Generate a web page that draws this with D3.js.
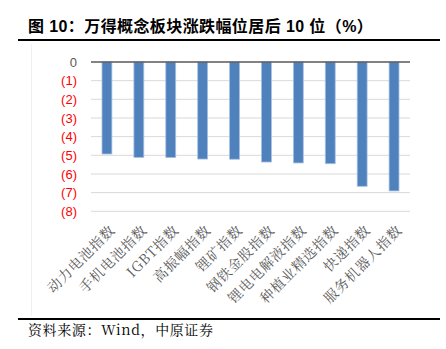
<!DOCTYPE html>
<html><head><meta charset="utf-8">
<script src="https://cdn.jsdelivr.net/npm/d3@7"></script>
<style>body{margin:0;background:#fff}svg{display:block}</style>
</head><body>
<script>
const categories = ["动力电池指数","手机电池指数","IGBT指数","高振幅指数","锂矿指数","钢铁金股指数","锂电电解液指数","种植业精选指数","快递指数","服务机器人指数"];
const values = [-4.93,-5.11,-5.12,-5.20,-5.21,-5.36,-5.41,-5.45,-6.66,-6.91];
const yTicks = [0,-1,-2,-3,-4,-5,-6,-7,-8];
const yTickLabels = ["0","(1)","(2)","(3)","(4)","(5)","(6)","(7)","(8)"];
const titleText = "图 10：万得概念板块涨跌幅位居后 10 位（%）";
const sourceText = "资料来源：Wind，中原证券";

const W=446,H=349;
const svg=d3.select("body").append("svg").attr("width",W).attr("height",H);
const cjk="'Noto Sans CJK SC','Noto Sans',sans-serif";

svg.append("text").attr("x",28).attr("y",32).attr("font-family","'Liberation Sans',"+cjk)
  .attr("font-weight","bold").attr("font-size",16).attr("letter-spacing",0.4).attr("fill","#000").text(titleText);
svg.append("line").attr("x1",18).attr("x2",440).attr("y1",40).attr("y2",40).attr("stroke","#000").attr("stroke-width",2);
svg.append("line").attr("x1",18).attr("x2",440).attr("y1",319).attr("y2",319).attr("stroke","#000").attr("stroke-width",2);
svg.append("line").attr("x1",31.5).attr("x2",31.5).attr("y1",44).attr("y2",316).attr("stroke","#f0f0f0").attr("stroke-width",1);
svg.append("text").attr("x",28).attr("y",335).attr("font-family","'Noto Serif CJK SC',"+cjk).attr("font-size",14).attr("letter-spacing",0.6).attr("fill","#000").text(sourceText);

const x=d3.scaleBand().domain(categories).range([91,410]).paddingInner(0.69).paddingOuter(0.345);
const y=d3.scaleLinear().domain([-8,0]).range([211.3,62]);

const g=svg.append("g");
g.selectAll("line.grid").data(yTicks.filter(d=>d!==0)).join("line").attr("class","grid")
  .attr("x1",91).attr("x2",410).attr("y1",d=>y(d)).attr("y2",d=>y(d)).attr("stroke","#d9d9d9").attr("stroke-width",1);

g.selectAll("rect.bar").data(values).join("rect").attr("class","bar")
  .attr("x",(d,i)=>x(categories[i])).attr("width",x.bandwidth())
  .attr("y",y(0)).attr("height",d=>y(d)-y(0))
  .attr("fill","#4F81BD").attr("stroke","#a7c0e0").attr("stroke-width",0.8);

g.append("line").attr("x1",91).attr("x2",410).attr("y1",y(0)).attr("y2",y(0)).attr("stroke","#595959").attr("stroke-width",1.5);

g.selectAll("text.yt").data(yTicks).join("text").attr("class","yt")
  .attr("x",77).attr("y",d=>y(d)).attr("dy","0.35em").attr("text-anchor","end")
  .attr("font-family","'Liberation Sans',Arial,sans-serif").attr("font-size",13)
  .attr("fill",d=>d===0?"#595959":"#ff0000").text((d,i)=>yTickLabels[i]);

g.selectAll("text.xl").data(categories).join("text").attr("class","xl")
  .attr("transform",d=>`translate(${x(d)+x.bandwidth()/2+9},${231}) rotate(-45)`)
  .attr("text-anchor","end").attr("font-family","'Noto Serif CJK SC',"+cjk).attr("font-size",14).attr("letter-spacing",0.8)
  .attr("fill","#595959").text(d=>d);
</script>
</body></html>
